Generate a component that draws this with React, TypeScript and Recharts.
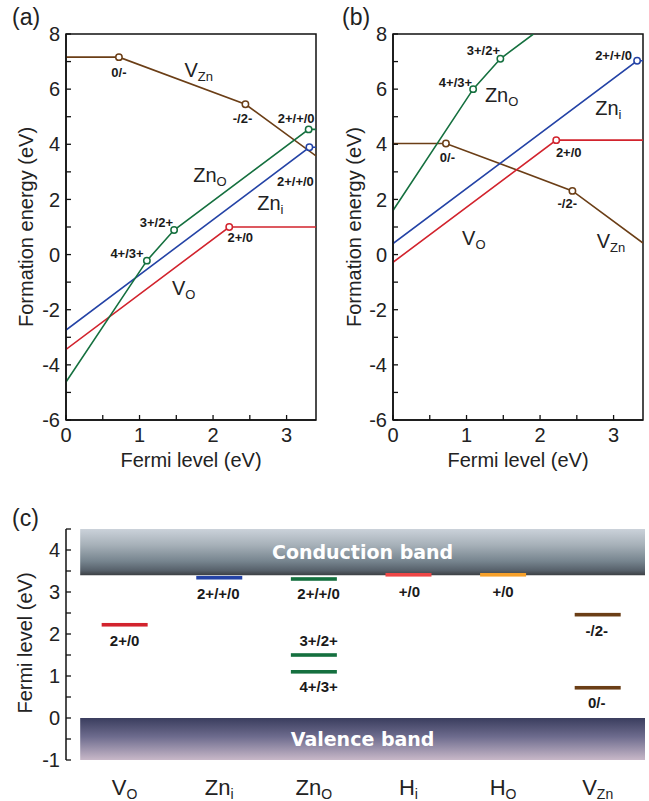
import React from "react";
import { ComposedChart, Line, XAxis, YAxis, ReferenceArea, ReferenceDot, Scatter } from "recharts";

const FONT = "'Liberation Sans', Arial, Helvetica, sans-serif";
const COL = { vo: "#d2232d", zni: "#2443a6", zno: "#15703f", vzn: "#6b3e16", hi: "#ef4646", ho: "#f6a02a" };

// axis ticks
const fermiTicks = [0, 0.5, 1, 1.5, 2, 2.5, 3];
const energyTicks = [-6, -5, -4, -3, -2, -1, 0, 1, 2, 3, 4, 5, 6, 7, 8];
const levelTicks = [-1, -0.5, 0, 0.5, 1, 1.5, 2, 2.5, 3, 3.5, 4, 4.5];
const defectTicks = [0, 1, 2, 3, 4, 5];
const defectNames = [
  { b: "V", s: "O" },
  { b: "Zn", s: "i" },
  { b: "Zn", s: "O" },
  { b: "H", s: "i" },
  { b: "H", s: "O" },
  { b: "V", s: "Zn" },
];

// (a) formation energies, lv marks a transition level
const aVO = [{ x: 0, y: -3.44 }, { x: 2.22, y: 1.0, lv: true }, { x: 3.4, y: 1.0 }];
const aZni = [{ x: 0, y: -2.74 }, { x: 3.31, y: 3.89, lv: true }, { x: 3.4, y: 3.89 }];
const aZnO = [
  { x: 0, y: -4.62 },
  { x: 1.1, y: -0.22, lv: true },
  { x: 1.47, y: 0.89, lv: true },
  { x: 3.3, y: 4.54, lv: true },
  { x: 3.4, y: 4.54 },
];
const aVZn = [{ x: 0, y: 7.16 }, { x: 0.72, y: 7.16, lv: true }, { x: 2.44, y: 5.45, lv: true }, { x: 3.4, y: 3.58 }];
const aCharges = [
  { x: 0.72, y: 6.44, t: "0/-" },
  { x: 2.4, y: 4.77, t: "-/2-" },
  { x: 3.13, y: 4.77, t: "2+/+/0" },
  { x: 3.12, y: 2.49, t: "2+/+/0" },
  { x: 1.23, y: 1.0, t: "3+/2+" },
  { x: 0.83, y: -0.12, t: "4+/3+" },
  { x: 2.37, y: 0.46, t: "2+/0" },
];
const aNames = [
  { x: 1.61, y: 6.44, b: "V", s: "Zn" },
  { x: 1.73, y: 2.64, b: "Zn", s: "O" },
  { x: 2.6, y: 1.62, b: "Zn", s: "i" },
  { x: 1.44, y: -1.47, b: "V", s: "O" },
];

// (b)
const bVO = [{ x: 0, y: -0.28 }, { x: 2.22, y: 4.15, lv: true }, { x: 3.4, y: 4.15 }];
const bZni = [{ x: 0, y: 0.4 }, { x: 3.32, y: 7.03, lv: true }, { x: 3.4, y: 7.03 }];
const bZnO = [{ x: 0, y: 1.6 }, { x: 1.09, y: 6.0, lv: true }, { x: 1.46, y: 7.1, lv: true }, { x: 1.91, y: 8 }];
const bVZn = [{ x: 0, y: 4.03 }, { x: 0.72, y: 4.03, lv: true }, { x: 2.44, y: 2.31, lv: true }, { x: 3.4, y: 0.42 }];
const bCharges = [
  { x: 1.23, y: 7.24, t: "3+/2+" },
  { x: 0.85, y: 6.08, t: "4+/3+" },
  { x: 3.0, y: 7.06, t: "2+/+/0" },
  { x: 0.74, y: 3.36, t: "0/-" },
  { x: 2.39, y: 3.54, t: "2+/0" },
  { x: 2.37, y: 1.69, t: "-/2-" },
];
const bNames = [
  { x: 1.25, y: 5.54, b: "Zn", s: "O" },
  { x: 2.75, y: 5.06, b: "Zn", s: "i" },
  { x: 0.94, y: 0.35, b: "V", s: "O" },
  { x: 2.77, y: 0.24, b: "V", s: "Zn" },
];

// (c) transition levels
const cVO = [{ x: 0, y: 2.22 }];
const cZni = [{ x: 1, y: 3.34 }];
const cZnO = [{ x: 2, y: 3.31 }, { x: 2, y: 1.5 }, { x: 2, y: 1.1 }];
const cHi = [{ x: 3, y: 3.41 }];
const cHO = [{ x: 4, y: 3.41 }];
const cVZn = [{ x: 5, y: 2.46 }, { x: 5, y: 0.72 }];
const cCharges = [
  { x: 0, y: 1.71, t: "2+/0" },
  { x: 0.99, y: 2.84, t: "2+/+/0" },
  { x: 2.05, y: 2.84, t: "2+/+/0" },
  { x: 2.05, y: 1.72, t: "3+/2+" },
  { x: 2.05, y: 0.63, t: "4+/3+" },
  { x: 3.01, y: 2.89, t: "+/0" },
  { x: 4.0, y: 2.89, t: "+/0" },
  { x: 4.99, y: 1.95, t: "-/2-" },
  { x: 4.99, y: 0.23, t: "0/-" },
];

const isMult = (v: number, step: number) => Math.abs(v / step - Math.round(v / step)) < 1e-6;

const yTick = (step: number, size: number) => (p: any) => {
  const ax = p.x + 6;
  const v = p.payload.value;
  return (
    <g>
      <line x1={ax} x2={ax + 5} y1={p.y} y2={p.y} stroke="#111" strokeWidth={1.3} />
      {isMult(v, step) && (
        <text x={p.x} y={p.y} dy="0.36em" textAnchor="end" fontSize={size} fontFamily={FONT} fill="#222">
          {v}
        </text>
      )}
    </g>
  );
};

const xTick = (p: any) => {
  const v = p.payload.value;
  return (
    <g>
      <line x1={p.x} x2={p.x} y1={p.y} y2={p.y - 5} stroke="#111" strokeWidth={1.3} />
      {isMult(v, 1) && (
        <text x={p.x} y={p.y + 22} textAnchor="middle" fontSize={20} fontFamily={FONT} fill="#222">
          {v}
        </text>
      )}
    </g>
  );
};

const defectTick = (p: any) => {
  const n = defectNames[Math.round(p.payload.value)];
  return (
    <text x={p.x} y={p.y + 35} textAnchor="middle" fontSize={22} fontFamily={FONT} fill="#222">
      <tspan>{n.b}</tspan>
      <tspan dy={4} fontSize={14}>{n.s}</tspan>
    </text>
  );
};

const openDot = (color: string) => (p: any) =>
  p.payload.lv ? (
    <circle key={p.index} cx={p.cx} cy={p.cy} r={3.2} fill="#fff" stroke={color} strokeWidth={1.5} />
  ) : (
    <g key={p.index} />
  );

const chargeText = (t: string, size: number) => (p: any) => (
  <text x={p.cx} y={p.cy} textAnchor="middle" fontSize={size} fontWeight={700} fontFamily={FONT} fill="#1a1a1a">
    {t}
  </text>
);

const nameText = (b: string, s: string) => (p: any) => (
  <text x={p.cx} y={p.cy} fontSize={20} fontFamily={FONT} fill="#222">
    <tspan>{b}</tspan>
    <tspan dy={4} fontSize={13}>{s}</tspan>
  </text>
);

function FormationPanel({ left, width, marginLeft, marginRight, series, charges, names }: any) {
  return (
    <div style={{ position: "absolute", left, top: 0 }}>
      <ComposedChart width={width} height={480} margin={{ top: 34, right: marginRight, bottom: 0, left: marginLeft }}>
        <XAxis
          type="number"
          dataKey="x"
          domain={[0, 3.4]}
          allowDataOverflow
          ticks={fermiTicks}
          interval={0}
          height={60}
          tickLine={false}
          tickSize={0}
          tickMargin={0}
          tick={xTick}
          axisLine={{ stroke: "#111", strokeWidth: 1.5 }}
        />
        <YAxis
          type="number"
          dataKey="y"
          domain={[-6, 8]}
          allowDataOverflow
          ticks={energyTicks}
          interval={0}
          width={46}
          tickLine={false}
          tickSize={0}
          tickMargin={6}
          tick={yTick(2, 20)}
          axisLine={{ stroke: "#111", strokeWidth: 1.5 }}
        />
        <ReferenceArea x1={0} x2={3.4} y1={-6} y2={8} fill="none" stroke="#111" strokeWidth={1.5} />
        {series.map((s: any, i: number) => (
          <Line
            key={i}
            data={s.data}
            dataKey="y"
            type="linear"
            stroke={s.color}
            strokeWidth={1.6}
            dot={openDot(s.color)}
            activeDot={false}
            isAnimationActive={false}
          />
        ))}
        {charges.map((c: any, i: number) => (
          <ReferenceDot key={"c" + i} x={c.x} y={c.y} r={0} shape={chargeText(c.t, 13)} />
        ))}
        {names.map((n: any, i: number) => (
          <ReferenceDot key={"n" + i} x={n.x} y={n.y} r={0} shape={nameText(n.b, n.s)} />
        ))}
      </ComposedChart>
    </div>
  );
}

const levelBar = (color: string) => (p: any) => (
  <rect x={p.cx - 23} y={p.cy - 1.8} width={46} height={3.6} fill={color} />
);

export default function App() {
  const aSeries = [
    { data: aVZn, color: COL.vzn },
    { data: aVO, color: COL.vo },
    { data: aZni, color: COL.zni },
    { data: aZnO, color: COL.zno },
  ];
  const bSeries = [
    { data: bVZn, color: COL.vzn },
    { data: bVO, color: COL.vo },
    { data: bZni, color: COL.zni },
    { data: bZnO, color: COL.zno },
  ];
  const levels = [
    { data: cVO, color: COL.vo },
    { data: cZni, color: COL.zni },
    { data: cZnO, color: COL.zno },
    { data: cHi, color: COL.hi },
    { data: cHO, color: COL.ho },
    { data: cVZn, color: COL.vzn },
  ];
  return (
    <div style={{ position: "absolute", left: 0, top: 0, width: 649, height: 801, background: "#fff", fontFamily: FONT, overflow: "hidden" }}>
      <FormationPanel left={0} width={330} marginLeft={20} marginRight={14} series={aSeries} charges={aCharges} names={aNames} />
      <FormationPanel left={330} width={319} marginLeft={17} marginRight={6} series={bSeries} charges={bCharges} names={bNames} />

      <div style={{ position: "absolute", left: 0, top: 500 }}>
        <ComposedChart width={649} height={301} margin={{ top: 29, right: 4, bottom: 0, left: 20 }}>
          <defs>
            <linearGradient id="condBand" x1="0" y1="0" x2="0" y2="1">
              <stop offset="0%" stopColor="#cbd2da" />
              <stop offset="35%" stopColor="#a6b0b8" />
              <stop offset="70%" stopColor="#76848e" />
              <stop offset="90%" stopColor="#56606a" />
              <stop offset="100%" stopColor="#3c4044" />
            </linearGradient>
            <linearGradient id="valBand" x1="0" y1="0" x2="0" y2="1">
              <stop offset="0%" stopColor="#3a3d5e" />
              <stop offset="45%" stopColor="#6e6c8e" />
              <stop offset="100%" stopColor="#c8b8c8" />
            </linearGradient>
          </defs>
          <XAxis
            type="number"
            dataKey="x"
            domain={[-0.62, 5.5]}
            allowDataOverflow
            ticks={defectTicks}
            interval={0}
            height={41}
            axisLine={false}
            tickLine={false}
            tickSize={0}
            tickMargin={0}
            tick={defectTick}
          />
          <YAxis
            type="number"
            dataKey="y"
            domain={[-1, 4.5]}
            allowDataOverflow
            ticks={levelTicks}
            interval={0}
            width={46}
            tickLine={false}
            tickSize={0}
            tickMargin={6}
            tick={yTick(1, 20)}
            axisLine={{ stroke: "#111", strokeWidth: 1.5 }}
          />
          <ReferenceArea
            x1={-0.47}
            x2={5.5}
            y1={3.4}
            y2={4.5}
            fill="url(#condBand)"
            fillOpacity={1}
            stroke="none"
            label={{ value: "Conduction band", position: "center", fill: "#fff", fontSize: 19, fontWeight: 700, fontFamily: "'DejaVu Sans', sans-serif" }}
          />
          <ReferenceArea
            x1={-0.47}
            x2={5.5}
            y1={-1}
            y2={0}
            fill="url(#valBand)"
            fillOpacity={1}
            stroke="none"
            label={{ value: "Valence band", position: "center", fill: "#fff", fontSize: 19, fontWeight: 700, fontFamily: "'DejaVu Sans', sans-serif" }}
          />
          {levels.map((l, i) => (
            <Scatter key={i} data={l.data} dataKey="y" shape={levelBar(l.color)} isAnimationActive={false} />
          ))}
          {cCharges.map((c, i) => (
            <ReferenceDot key={"cc" + i} x={c.x} y={c.y} r={0} shape={chargeText(c.t, 15)} />
          ))}
        </ComposedChart>
      </div>

      <svg width={649} height={801} style={{ position: "absolute", left: 0, top: 0, pointerEvents: "none" }} fontFamily={FONT} fill="#222">
        <text x={12} y={25} fontSize={23}>(a)</text>
        <text x={342} y={25} fontSize={23}>(b)</text>
        <text x={12} y={526} fontSize={23}>(c)</text>
        <text x={33} y={227} fontSize={20} textAnchor="middle" transform="rotate(-90 33 227)">Formation energy (eV)</text>
        <text x={361} y={227} fontSize={20} textAnchor="middle" transform="rotate(-90 361 227)">Formation energy (eV)</text>
        <text x={191} y={467} fontSize={20} textAnchor="middle">Fermi level (eV)</text>
        <text x={518} y={467} fontSize={20} textAnchor="middle">Fermi level (eV)</text>
        <text x={32} y={643} fontSize={20} textAnchor="middle" transform="rotate(-90 32 643)">Fermi level (eV)</text>
      </svg>
    </div>
  );
}
